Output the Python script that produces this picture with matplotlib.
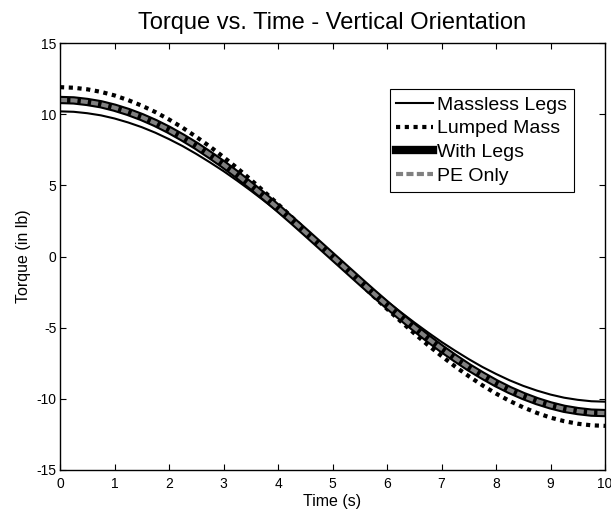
import matplotlib
matplotlib.use("Agg")
import matplotlib.pyplot as plt

plt.rcParams['font.family'] = ['Liberation Sans', 'DejaVu Sans']
plt.rcParams['axes.unicode_minus'] = False

time_s = [0.0, 0.25, 0.5, 0.75, 1.0, 1.25, 1.5, 1.75, 2.0, 2.25, 2.5, 2.75, 3.0, 3.25, 3.5,
          3.75, 4.0, 4.25, 4.5, 4.75, 5.0, 5.25, 5.5, 5.75, 6.0, 6.25, 6.5, 6.75, 7.0,
          7.25, 7.5, 7.75, 8.0, 8.25, 8.5, 8.75, 9.0, 9.25, 9.5, 9.75, 10.0]

massless_legs = [10.20, 10.17, 10.07, 9.92, 9.70, 9.42, 9.09, 8.70, 8.25, 7.76, 7.21, 6.62,
                 6.00, 5.33, 4.63, 3.90, 3.15, 2.38, 1.60, 0.80, 0.00, -0.80, -1.60, -2.38,
                 -3.15, -3.90, -4.63, -5.33, -6.00, -6.62, -7.21, -7.76, -8.25, -8.70, -9.09,
                 -9.42, -9.70, -9.92, -10.07, -10.17, -10.20]
lumped_mass = [11.90, 11.86, 11.75, 11.57, 11.32, 10.99, 10.60, 10.15, 9.63, 9.05, 8.41, 7.73,
               6.99, 6.22, 5.40, 4.55, 3.68, 2.78, 1.86, 0.93, 0.00, -0.93, -1.86, -2.78,
               -3.68, -4.55, -5.40, -6.22, -6.99, -7.73, -8.41, -9.05, -9.63, -10.15, -10.60,
               -10.99, -11.32, -11.57, -11.75, -11.86, -11.90]
with_legs = [11.00, 10.97, 10.86, 10.70, 10.46, 10.16, 9.80, 9.38, 8.90, 8.36, 7.78, 7.14,
             6.47, 5.75, 4.99, 4.21, 3.40, 2.57, 1.72, 0.86, 0.00, -0.86, -1.72, -2.57,
             -3.40, -4.21, -4.99, -5.75, -6.47, -7.14, -7.78, -8.36, -8.90, -9.38, -9.80,
             -10.16, -10.46, -10.70, -10.86, -10.97, -11.00]
pe_only = [11.00, 10.97, 10.86, 10.70, 10.46, 10.16, 9.80, 9.38, 8.90, 8.36, 7.78, 7.14,
           6.47, 5.75, 4.99, 4.21, 3.40, 2.57, 1.72, 0.86, 0.00, -0.86, -1.72, -2.57,
           -3.40, -4.21, -4.99, -5.75, -6.47, -7.14, -7.78, -8.36, -8.90, -9.38, -9.80,
           -10.16, -10.46, -10.70, -10.86, -10.97, -11.00]

x_ticks = [0, 1, 2, 3, 4, 5, 6, 7, 8, 9, 10]
y_ticks = [-15, -10, -5, 0, 5, 10, 15]

fig = plt.figure(figsize=(6.11, 5.15), dpi=100)
ax = fig.add_axes([0.0982, 0.0874, 0.892, 0.829])

ax.plot(time_s, massless_legs, color='black', lw=1.5, label='Massless Legs')
ax.plot(time_s, lumped_mass, color='black', lw=3, linestyle=(0, (1, 1.1)),
        dash_capstyle='butt', label='Lumped Mass')
ax.plot(time_s, with_legs, color='black', lw=6, label='With Legs')
ax.plot(time_s, pe_only, color='#808080', lw=3, linestyle=(0, (1.7, 0.8)),
        dash_capstyle='butt', label='PE Only')

ax.set_xlim(0, 10)
ax.set_ylim(-15, 15)
ax.set_xticks(x_ticks)
ax.set_yticks(y_ticks)
ax.tick_params(direction='in', top=True, right=True, labelsize=10, length=4, width=0.8)
ax.tick_params(axis='x', pad=5)
ax.tick_params(axis='y', pad=2.5)
for s in ax.spines.values():
    s.set_linewidth(1.0)

ax.set_title('Torque vs. Time - Vertical Orientation', fontsize=17, pad=10)
ax.set_xlabel('Time (s)', fontsize=11.5, labelpad=2)
ax.set_ylabel('Torque (in lb)', fontsize=11.5, labelpad=4)

leg = ax.legend(loc='upper right', bbox_to_anchor=(0.943, 0.892), fontsize=14,
                handlelength=1.9, handletextpad=0.2, borderpad=0.35, labelspacing=0.32,
                fancybox=False, framealpha=1, edgecolor='black', borderaxespad=0)
leg.get_frame().set_linewidth(0.8)

fig.savefig('out.png', dpi=100)
